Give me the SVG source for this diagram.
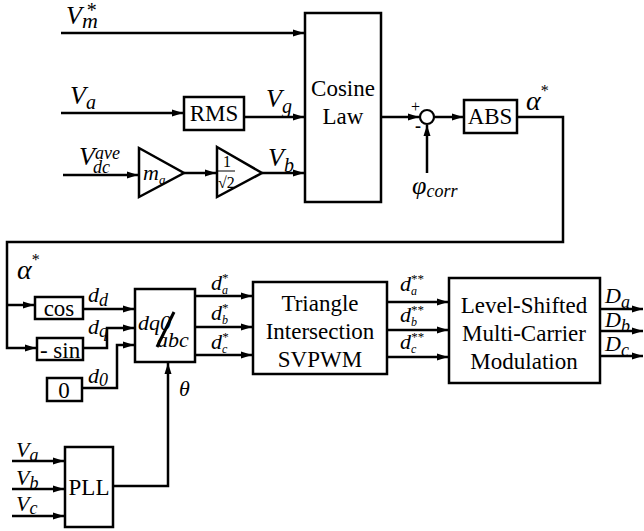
<svg xmlns="http://www.w3.org/2000/svg" width="644" height="531" viewBox="0 0 644 531">
<defs>
<marker id="ar" markerUnits="userSpaceOnUse" markerWidth="12" markerHeight="10" refX="11" refY="5" orient="auto">
<path d="M0,1.5 L11,5 L0,8.5 Z" fill="#000"/>
</marker>
</defs>
<rect width="644" height="531" fill="#fff"/>

<g id="connectors" fill="none" stroke="#000" stroke-width="2.5" marker-end="url(#ar)">
<path d="M61,33 H304"/>
<path d="M61,113 H183"/>
<path d="M244,117 H304"/>
<path d="M63,175 H138"/>
<path d="M184,173 H216"/>
<path d="M262,173 H304"/>
<path d="M381,117 H419"/>
<path d="M427,173 V125"/>
<path d="M434,117 H463"/>
<path d="M517,117 H563 V242 H7 V348 H36"/>
<path d="M7,305 H34"/>
<path d="M83,309 H134"/>
<path d="M83,348 H107 V328 H134"/>
<path d="M82,388 H117 V345 H134"/>
<path d="M195,296 H252"/>
<path d="M195,327 H252"/>
<path d="M195,355 H252"/>
<path d="M113,486 H168 V363"/>
<path d="M12,461 H64"/>
<path d="M12,489 H64"/>
<path d="M12,516 H64"/>
<path d="M387,302 H448"/>
<path d="M387,330 H448"/>
<path d="M387,357 H448"/>
<path d="M600,309 H643"/>
<path d="M600,331 H643"/>
<path d="M600,356 H643"/>
</g>

<g id="labels" font-family="Liberation Serif" font-style="italic">
<text x="66" y="24" font-size="26">V<tspan font-size="22" dy="4">m</tspan><tspan font-style="normal" font-size="20" dx="-11" dy="-11">*</tspan></text>
<text x="70" y="104" font-size="26">V<tspan font-size="20" dy="5">a</tspan></text>
<text x="79" y="165" font-size="26">V<tspan font-size="18" dy="-6">ave</tspan><tspan font-size="18" dx="-27" dy="14">dc</tspan></text>
<text x="266" y="107" font-size="26">V<tspan font-size="20" dy="6">g</tspan></text>
<text x="268" y="166" font-size="26">V<tspan font-size="20" dy="6">b</tspan></text>
<text x="411" y="112" font-size="16" font-style="normal">+</text>
<text x="415" y="132" font-size="18" font-style="normal" font-weight="bold">-</text>
<text x="412" y="194" font-size="26">φ<tspan font-size="18" dy="3">corr</tspan></text>
<text x="526" y="110" font-size="28">α<tspan font-style="normal" font-size="16" dy="-14">*</tspan></text>
<text x="17" y="279" font-size="28">α<tspan font-style="normal" font-size="16" dy="-14">*</tspan></text>
<text x="88" y="302" font-size="22">d<tspan font-size="18" dy="4">d</tspan></text>
<text x="88" y="334" font-size="22">d<tspan font-size="18" dy="3">q</tspan></text>
<text x="88" y="383" font-size="22">d<tspan font-size="18" dy="3">0</tspan></text>
<text x="211" y="290" font-size="22">d<tspan font-size="12" dy="4">a</tspan><tspan font-style="normal" font-size="13" dx="-6" dy="-12">*</tspan></text>
<text x="211" y="320" font-size="22">d<tspan font-size="12" dy="4">b</tspan><tspan font-style="normal" font-size="13" dx="-6" dy="-12">*</tspan></text>
<text x="211" y="349" font-size="22">d<tspan font-size="12" dy="4">c</tspan><tspan font-style="normal" font-size="13" dx="-5" dy="-12">*</tspan></text>
<text x="179" y="396" font-size="22">θ</text>
<text x="400" y="291" font-size="22">d<tspan font-size="12" dy="4">a</tspan><tspan font-style="normal" font-size="13" dx="-6" dy="-12">**</tspan></text>
<text x="400" y="322" font-size="22">d<tspan font-size="12" dy="4">b</tspan><tspan font-style="normal" font-size="13" dx="-6" dy="-12">**</tspan></text>
<text x="400" y="349" font-size="22">d<tspan font-size="12" dy="4">c</tspan><tspan font-style="normal" font-size="13" dx="-5" dy="-12">**</tspan></text>
<text x="605" y="303" font-size="22">D<tspan font-size="18" dy="5">a</tspan></text>
<text x="605" y="327" font-size="22">D<tspan font-size="18" dy="5">b</tspan></text>
<text x="605" y="351" font-size="22">D<tspan font-size="18" dy="5">c</tspan></text>
<text x="16" y="457" font-size="22">V<tspan font-size="18" dy="4">a</tspan></text>
<text x="16" y="485" font-size="22">V<tspan font-size="18" dy="4">b</tspan></text>
<text x="16" y="511" font-size="22">V<tspan font-size="18" dy="3">c</tspan></text>
</g>

<g id="cosine-law" font-family="Liberation Serif" font-size="23">
<rect x="305" y="13" width="76" height="189" fill="#fff" stroke="#000" stroke-width="2.5"/>
<text x="343" y="96" text-anchor="middle">Cosine</text>
<text x="343" y="124" text-anchor="middle">Law</text>
</g>
<g id="rms" font-family="Liberation Serif" font-size="23">
<rect x="184" y="97" width="60" height="33" fill="#fff" stroke="#000" stroke-width="2.5"/>
<text x="214" y="121" text-anchor="middle">RMS</text>
</g>
<g id="gain-ma" font-family="Liberation Serif">
<path d="M139,148 L184,173 L139,197 Z" fill="#fff" stroke="#000" stroke-width="2.5"/>
<text x="143" y="180" font-style="italic" font-size="22">m<tspan font-size="13" dy="4">a</tspan></text>
</g>
<g id="gain-sqrt2" font-family="Liberation Serif" font-size="16">
<path d="M217,147 L262,173 L217,197 Z" fill="#fff" stroke="#000" stroke-width="2.5"/>
<text x="223" y="167">1</text>
<line x1="218" y1="171" x2="235" y2="171" stroke="#000" stroke-width="1"/>
<text x="218" y="188">√2</text>
</g>
<g id="sum">
<circle cx="427" cy="117" r="7" fill="#fff" stroke="#000" stroke-width="2.2"/>
</g>
<g id="abs" font-family="Liberation Serif" font-size="23">
<rect x="464" y="100" width="53" height="33" fill="#fff" stroke="#000" stroke-width="2.5"/>
<text x="490" y="124" text-anchor="middle">ABS</text>
</g>
<g id="cos" font-family="Liberation Serif" font-size="23">
<rect x="35" y="297" width="48" height="22" fill="#fff" stroke="#000" stroke-width="2.5"/>
<text x="59" y="316" text-anchor="middle">cos</text>
</g>
<g id="neg-sin" font-family="Liberation Serif" font-size="23">
<rect x="37" y="338" width="46" height="22" fill="#fff" stroke="#000" stroke-width="2.5"/>
<text x="60" y="358" text-anchor="middle">- sin</text>
</g>
<g id="zero" font-family="Liberation Serif" font-size="23">
<rect x="47" y="378" width="35" height="23" fill="#fff" stroke="#000" stroke-width="2.5"/>
<text x="64" y="398" text-anchor="middle">0</text>
</g>
<g id="dq0-abc" font-family="Liberation Serif" font-style="italic" font-size="22">
<rect x="135" y="289" width="60" height="73" fill="#fff" stroke="#000" stroke-width="2.5"/>
<text x="138" y="330">dq0</text>
<line x1="157" y1="347" x2="174" y2="312" stroke="#000" stroke-width="3"/>
<text x="157" y="347">abc</text>
</g>
<g id="pll" font-family="Liberation Serif" font-size="23">
<rect x="65" y="447" width="48" height="80" fill="#fff" stroke="#000" stroke-width="2.5"/>
<text x="89" y="495" text-anchor="middle">PLL</text>
</g>
<g id="svpwm" font-family="Liberation Serif" font-size="23">
<rect x="253" y="282" width="134" height="92" fill="#fff" stroke="#000" stroke-width="2.5"/>
<text x="320" y="311" text-anchor="middle">Triangle</text>
<text x="320" y="339" text-anchor="middle">Intersection</text>
<text x="320" y="367" text-anchor="middle">SVPWM</text>
</g>
<g id="level-shifted" font-family="Liberation Serif" font-size="23">
<rect x="449" y="278" width="151" height="105" fill="#fff" stroke="#000" stroke-width="2.5"/>
<text x="524" y="313" text-anchor="middle">Level-Shifted</text>
<text x="524" y="341" text-anchor="middle">Multi-Carrier</text>
<text x="524" y="369" text-anchor="middle">Modulation</text>
</g>
</svg>
